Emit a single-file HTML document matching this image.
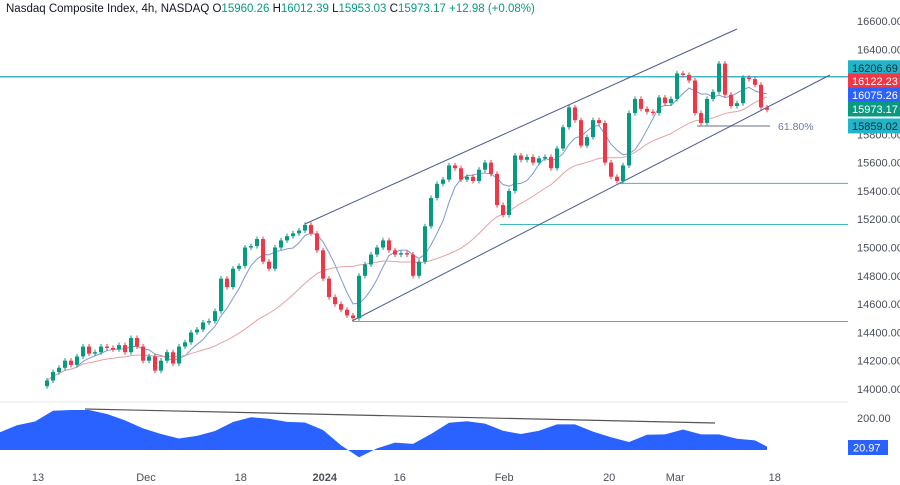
<!DOCTYPE html>
<html><head><meta charset="utf-8">
<style>
html,body{margin:0;padding:0;background:#fff;width:900px;height:485px;overflow:hidden;font-family:"Liberation Sans",sans-serif}
svg{display:block}
</style></head>
<body>
<svg id="chart" width="900" height="485" xmlns="http://www.w3.org/2000/svg" font-family="Liberation Sans, sans-serif">
<g>
<text x="6" y="12" font-size="11.5" fill="#131722">Nasdaq Composite Index, 4h, NASDAQ  <tspan fill="#131722">O</tspan><tspan fill="#089981">15960.26</tspan>  <tspan fill="#131722">H</tspan><tspan fill="#089981">16012.39</tspan>  <tspan fill="#131722">L</tspan><tspan fill="#089981">15953.03</tspan>  <tspan fill="#131722">C</tspan><tspan fill="#089981">15973.17</tspan>  <tspan fill="#089981">+12.98 (+0.08%)</tspan></text>
</g>
<g id="grid"></g>
<g id="levels"></g>
<g id="mas"></g>
<g id="candles"></g>
<g id="ind"></g>
<g id="axis"></g>
</svg>
<script>
const NS="http://www.w3.org/2000/svg";
const closes=[14060,14120,14150,14200,14170,14230,14300,14250,14260,14300,14290,14280,14310,14260,14360,14300,14200,14230,14130,14200,14260,14180,14300,14330,14400,14420,14470,14480,14550,14780,14720,14850,14870,15000,15010,15060,14900,14850,15000,15050,15080,15100,15120,15160,15100,14980,14780,14650,14600,14560,14520,14500,14800,14880,14950,15000,15050,14980,14950,14960,14950,14800,14900,15150,15350,15450,15480,15580,15560,15480,15500,15470,15550,15600,15520,15300,15230,15400,15650,15620,15640,15600,15630,15640,15560,15700,15850,15990,15900,15720,15780,15900,15880,15600,15500,15470,15580,15950,16050,15980,15960,15950,16060,16020,16050,16230,16220,16180,15950,15880,16050,16100,16300,16080,16000,16020,16200,16190,16150,15990,15973];
const firstOpen=14020;
const cci=[108,155,178,245,250,250,225,185,135,100,72,88,119,175,205,195,176,172,125,30,-45,10,46,38,100,170,180,165,120,100,120,160,160,115,80,50,95,98,128,98,98,70,60,21];
const priceTicks=[16600,16400,16200,16000,15800,15600,15400,15200,15000,14800,14600,14400,14200,14000];
const xLabels=["13","Dec","18","2024","16","Feb","20","Mar","18"];
const xLabelBars=[-1.5,16.5,32.3,46.3,58.8,76.2,93.7,104.7,121.3];
const levelVals=[16206.69,15453.35,15162.88,14477.19];
const levelStartBars=[-8,95.5,75.5,51];

const X=i=>47+6*i;
const Y=v=>389-(v-14000)*0.1415;
const YI=v=>450-v*0.16;
function el(t,a,p){const e=document.createElementNS(NS,t);for(const k in a)e.setAttribute(k,a[k]);(p||document.getElementById('chart')).appendChild(e);return e;}

// price ticks
const axis=document.getElementById('axis');
priceTicks.forEach(v=>{const t=el('text',{x:857,y:Y(v)+4,'font-size':11,fill:'#4a4f5c'},axis);t.textContent=v.toFixed(2);

});
// indicator ticks
let t2=el('text',{x:857,y:YI(200)+4,'font-size':11,fill:'#4a4f5c'},axis);t2.textContent='200.00';


// x labels
xLabels.forEach((s,k)=>{const t=el('text',{x:X(xLabelBars[k]),y:481,'font-size':11,fill:'#4a4f5c','text-anchor':'middle','font-weight':s==='2024'?'bold':'normal'},axis);t.textContent=s;

});
// pane separator
el('line',{x1:0,x2:848,y1:402,y2:402,stroke:'#e6e8ec'},document.getElementById('grid'));

// levels
const lv=document.getElementById('levels');
levelVals.forEach((v,k)=>{const l=el('line',{x1:Math.max(0,X(levelStartBars[k])),x2:848,y1:Y(v),y2:Y(v),stroke:'#3fb7c4','stroke-width':k===0?1.5:1},lv);

});
// fib
el('line',{x1:697,x2:770,y1:Y(15859.02),y2:Y(15859.02),stroke:'#9aa0ab','stroke-width':1.5},lv);
let ft=el('text',{x:778,y:Y(15859.02)+4,'font-size':10.5,fill:'#6a7aa8'},lv);ft.textContent='61.80%';


// channel
const ch1=el('line',{x1:305,y1:224,x2:737,y2:29,stroke:'#4a5a8c','stroke-width':1},lv);


const ch2=el('line',{x1:352,y1:321,x2:830,y2:75,stroke:'#4a5a8c','stroke-width':1},lv);



// MAs
function sma(n){return closes.map((c,i)=>{const s=closes.slice(Math.max(0,i-n+1),i+1);return s.reduce((a,b)=>a+b,0)/s.length;});}
const mg=document.getElementById('mas');
[[sma(6),'#7e97d4'],[sma(24),'#e8a0a0']].forEach(([arr,c],k)=>{const p=el('polyline',{points:arr.map((v,i)=>X(i)+','+Y(v)).join(' '),fill:'none',stroke:c,'stroke-width':1},mg);

});

// candles
const cg=document.getElementById('candles');
closes.forEach((c,i)=>{const o=i===0?firstOpen:closes[i-1];const up=c>=o;const col=up?'#089981':'#f23645';
const hi=Math.max(o,c)+18,lo=Math.min(o,c)-18;const x=X(i);
const g=el('g',{},cg);


el('line',{x1:x,x2:x,y1:Y(hi),y2:Y(lo),stroke:col,'stroke-width':1},g);
const y1=Y(Math.max(o,c)),y2=Y(Math.min(o,c));
el('rect',{x:x-2,y:y1,width:4,height:Math.max(1,y2-y1),fill:col},g);});

// indicator
const ig=document.getElementById('ind');
const pts=cci.map((v,k)=>[X(Math.min(120,-8+3*k)),YI(v)]);
const d='M'+pts[0][0]+','+YI(0)+' '+pts.map(p=>'L'+p[0]+','+p[1]).join(' ')+' L'+pts[pts.length-1][0]+','+YI(0)+'Z';
const ar=el('path',{d:d,fill:'#2962ff'},ig);


const dl=el('line',{x1:85,y1:409,x2:715,y2:423,stroke:'#555','stroke-width':1.2},ig);



// right labels
const labels=[[16206.69,'#22b5c9','#0b2a30',Y(16206.69)-9],[16122.23,'#f23645','#fff',81],[16075.26,'#2962ff','#fff',95],[15973.17,'#089981','#fff',109],[15859.02,'#22b5c9','#0b2a30',Y(15859.02)]];
labels.forEach(([v,bg,fg,yc])=>{const g=el('g',{},axis);


el('rect',{x:848,y:yc-7.5,width:52,height:15,fill:bg},g);const t=el('text',{x:852,y:yc+4,'font-size':11,fill:fg},g);t.textContent=v.toFixed(2);});
const g=el('g',{},axis);


el('rect',{x:848,y:440,width:40,height:15,fill:'#2962ff'},g);const tt=el('text',{x:853,y:451.5,'font-size':11,fill:'#fff'},g);tt.textContent='20.97';
</script>
</body></html>
